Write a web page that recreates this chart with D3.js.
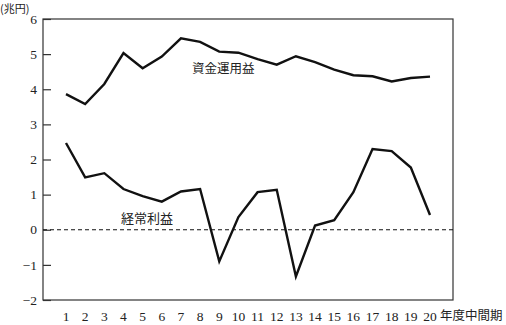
<!DOCTYPE html>
<html lang="ja">
<head>
<meta charset="UTF-8">
<title>資金運用益・経常利益</title>
<style>
    body { margin: 0; background: #fff; }
    .num { font-family: "Liberation Serif", "DejaVu Serif", serif; font-size: 13.5px; fill: #222; }
    .jp { font-family: "Noto Sans CJK JP", sans-serif; font-size: 12.5px; fill: #222; }
    .line { fill: none; stroke: #111; stroke-width: 2.4px; stroke-linejoin: miter; }
</style>
</head>
<body>
<svg width="506" height="325"></svg>
<script src="https://cdn.jsdelivr.net/npm/d3@7"></script>
<script>
    // 年度中間期
    var periods = [1,2,3,4,5,6,7,8,9,10,11,12,13,14,15,16,17,18,19,20];
    // 資金運用益（兆円）
    var shikinUnyo = [3.86,3.58,4.15,5.03,4.6,4.93,5.45,5.35,5.07,5.04,4.86,4.7,4.94,4.77,4.56,4.4,4.37,4.22,4.32,4.36];
    // 経常利益（兆円）
    var keijoRieki = [2.47,1.49,1.61,1.16,0.96,0.8,1.09,1.16,-0.9,0.36,1.07,1.14,-1.33,0.12,0.27,1.07,2.3,2.24,1.77,0.42];
    var yTicks = [-2,-1,0,1,2,3,4,5,6];

    var svg = d3.select("svg"),
        margin = {top: 19, right: 53, bottom: 25, left: 43},
        width = +svg.attr("width") - margin.left - margin.right,
        height = +svg.attr("height") - margin.top - margin.bottom;

    var x = d3.scaleLinear().domain([1, 20]).range([66 - margin.left, 430 - margin.left]);
    var y = d3.scaleLinear().domain([-2, 6]).range([height, 0]);

    var g = svg.append("g")
        .attr("transform", "translate(" + margin.left + "," + margin.top + ")");

    // 枠
    g.append("rect")
        .attr("width", width)
        .attr("height", height)
        .attr("fill", "none")
        .attr("stroke", "#333")
        .attr("stroke-width", 1.2);

    // y軸（内向き目盛）
    var yAxis = g.append("g")
        .call(d3.axisRight(y).tickValues(yTicks).tickSize(8).tickFormat(""));
    yAxis.select(".domain").remove();
    yAxis.selectAll("line").attr("stroke", "#333").attr("stroke-width", 1.2);

    g.selectAll(".ylab")
        .data(yTicks)
        .enter().append("text")
        .attr("class", "num")
        .attr("x", -6)
        .attr("y", function (d) { return y(d); })
        .attr("dy", "0.35em")
        .attr("text-anchor", "end")
        .text(function (d) { return d < 0 ? "−" + Math.abs(d) : d; });

    // x軸ラベル
    g.selectAll(".xlab")
        .data(periods)
        .enter().append("text")
        .attr("class", "num")
        .attr("x", function (d) { return x(d); })
        .attr("y", height + 16)
        .attr("dy", "0.35em")
        .attr("text-anchor", "middle")
        .text(function (d) { return d; });

    g.append("text")
        .attr("class", "jp")
        .attr("x", x(20) + 10)
        .attr("y", height + 16)
        .attr("dy", "0.35em")
        .text("年度中間期");

    svg.append("text")
        .attr("class", "jp")
        .attr("x", 0)
        .attr("y", 12.5)
        .style("font-size", "11px")
        .text("(兆円)");

    // ゼロ線
    g.append("line")
        .attr("x1", 0).attr("x2", width)
        .attr("y1", y(0)).attr("y2", y(0))
        .attr("stroke", "#111")
        .attr("stroke-width", 1)
        .attr("stroke-dasharray", "4,3");

    var line = d3.line()
        .x(function (d, i) { return x(periods[i]); })
        .y(function (d) { return y(d); });

    g.append("path").datum(shikinUnyo).attr("class", "line").attr("d", line);
    g.append("path").datum(keijoRieki).attr("class", "line").attr("d", line);

    g.append("text")
        .attr("class", "jp")
        .attr("x", 192 - margin.left)
        .attr("y", 73 - margin.top)
        .text("資金運用益");

    g.append("text")
        .attr("class", "jp")
        .attr("x", 121 - margin.left)
        .attr("y", 223 - margin.top)
        .style("font-size", "13px")
        .text("経常利益");
</script>
</body>
</html>
